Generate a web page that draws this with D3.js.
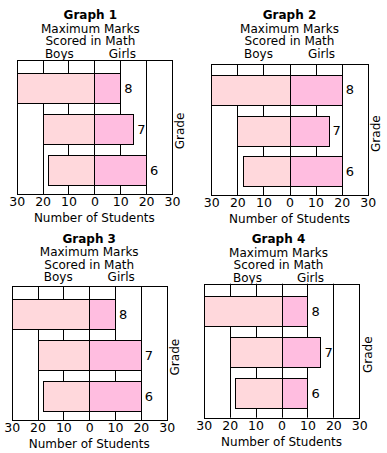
<!DOCTYPE html>
<html><head><meta charset="utf-8">
<script src="https://cdn.jsdelivr.net/npm/d3@7"></script>
<style>
html,body{margin:0;padding:0;background:#fff;}
svg{display:block;font-family:"DejaVu Sans",Verdana,sans-serif;}
</style></head>
<body>
<svg id="c" width="387" height="453"></svg>
<script>
// ---- data ----
const graphTitles = ["Graph 1", "Graph 2", "Graph 3", "Graph 4"];
const grades = ["8", "7", "6"];
const boys1 = [30, 20, 18];
const girls1 = [10, 15, 20];
const boys2 = [30, 20, 18];
const girls2 = [20, 15, 20];
const boys3 = [30, 20, 18];
const girls3 = [10, 20, 20];
const boys4 = [30, 20, 18];
const girls4 = [10, 15, 10];
const tickValues = [-30, -20, -10, 0, 10, 20, 30];
const tickLabels = ["30", "20", "10", "0", "10", "20", "30"];
const gridValues = [-20, -10, 0, 10, 20];

// ---- layout (per panel) ----
const panels = [
  {title: graphTitles[0], boys: boys1, girls: girls1, left: 16.7, top: 60, w: 155.3, h: 134, tc: 15, b0: 13.3, b1: 125, tdx: -4},
  {title: graphTitles[1], boys: boys2, girls: girls2, left: 211.3, top: 64.3, w: 156.4, h: 130.7, tc: 15, b0: 10.7, b1: 121.4, tdx: 0},
  {title: graphTitles[2], boys: boys3, girls: girls3, left: 11.7, top: 286.3, w: 155, h: 133.7, tc: 238.3, b0: 12.7, b1: 124.7, tdx: 0},
  {title: graphTitles[3], boys: boys4, girls: girls4, left: 203.7, top: 283.7, w: 155.6, h: 134, tc: 239, b0: 12.3, b1: 124.3, tdx: -3}
];

const svg = d3.select("#c");
const boyColor = "#ffd8dc", girlColor = "#ffbde0";

panels.forEach(p => {
  const g = svg.append("g");
  const x = d3.scaleLinear().domain([-30, 30]).range([p.left, p.left + p.w]);
  const y = d3.scaleBand().domain(grades).range([p.top + p.b0, p.top + p.b1]).paddingInner(0.27).paddingOuter(0);
  const x0 = x(0);

  // titles
  g.append("text").attr("x", x0 + p.tdx).attr("y", p.tc).attr("dy", "0.35em")
    .attr("text-anchor", "middle").attr("font-weight", "bold").attr("font-size", 12).text(p.title);
  g.append("text").attr("x", x0 + p.tdx).attr("y", p.tc + 13.5).attr("dy", "0.35em")
    .attr("text-anchor", "middle").attr("font-size", 12).text("Maximum Marks");
  g.append("text").attr("x", x0 + p.tdx).attr("y", p.tc + 26).attr("dy", "0.35em")
    .attr("text-anchor", "middle").attr("font-size", 12).text("Scored in Math");
  g.append("text").attr("x", x0 - 31 + p.tdx).attr("y", p.tc + 38.5).attr("dy", "0.35em")
    .attr("text-anchor", "middle").attr("font-size", 12).text("Boys");
  g.append("text").attr("x", x0 + 32 + p.tdx).attr("y", p.tc + 38.5).attr("dy", "0.35em")
    .attr("text-anchor", "middle").attr("font-size", 12).text("Girls");

  // box background
  g.append("rect").attr("x", x(-30)).attr("y", p.top).attr("width", x(30) - x(-30)).attr("height", p.h)
    .attr("fill", "#fff");

  // grid lines
  g.selectAll(".grid").data(gridValues).enter().append("line")
    .attr("x1", d => Math.round(x(d)) + 0.5).attr("x2", d => Math.round(x(d)) + 0.5)
    .attr("y1", p.top).attr("y2", p.top + p.h)
    .attr("stroke", "#000").attr("stroke-width", 1);

  // bars
  grades.forEach((gr, i) => {
    const yy = Math.round(y(gr)) + 0.5, hh = Math.round(y.bandwidth());
    g.append("rect").attr("x", Math.round(x(-p.boys[i])) + 0.5).attr("y", yy)
      .attr("width", Math.round(x0) - Math.round(x(-p.boys[i]))).attr("height", hh)
      .attr("fill", boyColor).attr("stroke", "#000").attr("stroke-width", 1);
    g.append("rect").attr("x", Math.round(x0) + 0.5).attr("y", yy)
      .attr("width", Math.round(x(p.girls[i])) - Math.round(x0)).attr("height", hh)
      .attr("fill", girlColor).attr("stroke", "#000").attr("stroke-width", 1);
    g.append("text").attr("x", x(p.girls[i]) + 4).attr("y", y(gr) + y.bandwidth() / 2).attr("dy", "0.36em")
      .attr("font-size", 13).text(gr);
  });

  // box outline
  g.append("rect").attr("x", Math.round(x(-30)) + 0.5).attr("y", Math.round(p.top) + 0.5)
    .attr("width", Math.round(x(30)) - Math.round(x(-30))).attr("height", Math.round(p.h))
    .attr("fill", "none").attr("stroke", "#000").attr("stroke-width", 1);

  // axis tick labels
  const axis = d3.axisBottom(x).tickValues(tickValues).tickSize(0).tickPadding(3.5)
    .tickFormat((d, i) => tickLabels[i]);
  const ax = g.append("g").attr("transform", `translate(0,${p.top + p.h})`).call(axis);
  ax.select(".domain").remove();
  ax.selectAll("text").attr("font-size", 12.5).attr("fill", "#000")
    .attr("font-family", "DejaVu Sans, Verdana, sans-serif");

  g.append("text").attr("x", x0).attr("y", p.top + p.h + 24).attr("dy", "0.35em")
    .attr("text-anchor", "middle").attr("font-size", 12).text("Number of Students");

  // Grade label
  g.append("text").attr("transform", `translate(${x(30) + 8},${p.top + p.h / 2 + 4}) rotate(-90)`)
    .attr("dy", "0.35em").attr("text-anchor", "middle").attr("font-size", 12).text("Grade");
});
</script>
</body></html>
